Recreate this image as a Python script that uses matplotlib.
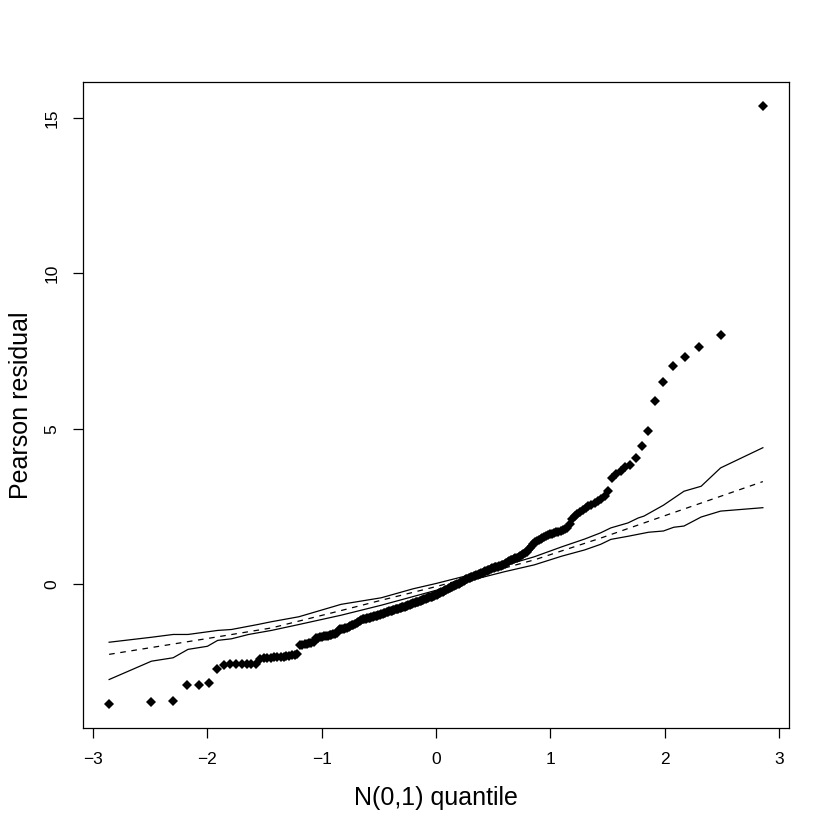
from statistics import NormalDist

import matplotlib
matplotlib.use("Agg")
import matplotlib.pyplot as plt
import numpy as np

# sorted Pearson residuals (n = 236)
residuals = [
    -3.86, -3.80, -3.77, -3.25, -3.25, -3.19, -2.74, -2.60, -2.58, -2.58, -2.58, -2.57, -2.57, -2.56,
    -2.40, -2.39, -2.38, -2.37, -2.36, -2.35, -2.34, -2.33, -2.32, -2.30, -2.29, -2.27, -2.25,
    -1.96, -1.95, -1.93, -1.92, -1.90, -1.88, -1.85,
    -1.74, -1.72, -1.70, -1.69, -1.68, -1.67, -1.66, -1.65, -1.63, -1.61, -1.59, -1.56,
    -1.48, -1.46, -1.45, -1.44, -1.42, -1.40, -1.38, -1.35, -1.32, -1.30, -1.27, -1.24, -1.21, -1.18,
    -1.15, -1.13, -1.12, -1.11, -1.10, -1.09, -1.08, -1.07, -1.05, -1.04, -1.03, -1.01, -1.00, -0.98,
    -0.97, -0.95, -0.94, -0.92, -0.91, -0.89, -0.88, -0.86,
    -0.85, -0.84, -0.83, -0.81, -0.80, -0.79, -0.77, -0.76, -0.74, -0.73, -0.72, -0.70, -0.69, -0.68,
    -0.66, -0.65, -0.63, -0.62, -0.60, -0.59, -0.57, -0.56, -0.54, -0.53, -0.51, -0.50, -0.48, -0.47,
    -0.45, -0.44, -0.42, -0.41, -0.40, -0.38, -0.37, -0.36,
    -0.34, -0.32, -0.30, -0.28, -0.26, -0.24, -0.22, -0.20, -0.18, -0.16, -0.14, -0.12, -0.10, -0.08,
    -0.06, -0.04, -0.02, 0.00, 0.02, 0.04, 0.06, 0.08, 0.10, 0.12, 0.15, 0.18,
    0.20, 0.21, 0.23, 0.24, 0.26, 0.27, 0.29, 0.30, 0.32, 0.33, 0.35, 0.37, 0.39, 0.41, 0.43, 0.45,
    0.47, 0.49, 0.51, 0.53, 0.54, 0.55, 0.56, 0.58, 0.59,
    0.60, 0.63, 0.66, 0.69, 0.72, 0.75, 0.77, 0.79, 0.81, 0.83, 0.85, 0.88, 0.91, 0.94, 0.97, 1.00,
    1.05, 1.10, 1.16, 1.22, 1.30, 1.35, 1.39, 1.42, 1.45, 1.48, 1.51, 1.54, 1.57, 1.60, 1.62,
    1.65, 1.67, 1.69, 1.71, 1.73, 1.76, 1.82, 1.95,
    2.10, 2.18, 2.26, 2.32, 2.40, 2.45, 2.50, 2.55, 2.62, 2.69, 2.73, 2.83, 2.99,
    3.42, 3.53, 3.64, 3.77, 3.85, 4.06, 4.44, 4.92, 5.89, 6.50, 7.02, 7.30, 7.63, 8.01, 15.39,
]

# simulated envelope (lower / median / upper)
upper_x = [-2.86, -2.49, -2.30, -2.17, -1.91, -1.79, -1.56, -1.44, -1.20, -0.83, -0.48, -0.20, 0.00,
           0.30, 0.60, 0.86, 1.10, 1.30, 1.44, 1.53, 1.68, 1.77, 1.82, 1.99, 2.17, 2.32, 2.49, 2.86]
upper_y = [-1.87, -1.71, -1.62, -1.62, -1.49, -1.46, -1.30, -1.21, -1.05, -0.65, -0.44, -0.15, 0.02,
           0.30, 0.60, 0.88, 1.20, 1.45, 1.65, 1.81, 1.97, 2.13, 2.19, 2.54, 2.99, 3.15, 3.74, 4.39]
lower_x = [-2.86, -2.49, -2.30, -2.17, -2.00, -1.91, -1.79, -1.64, -1.44, -1.20, -0.83, -0.48, -0.20,
           0.00, 0.30, 0.60, 0.86, 1.10, 1.30, 1.44, 1.53, 1.68, 1.86, 1.99, 2.08, 2.17, 2.32, 2.49, 2.86]
lower_y = [-3.07, -2.48, -2.37, -2.10, -2.00, -1.81, -1.76, -1.62, -1.49, -1.30, -1.00, -0.68, -0.40,
           -0.20, 0.12, 0.40, 0.62, 0.90, 1.10, 1.28, 1.44, 1.54, 1.67, 1.71, 1.83, 1.87, 2.16, 2.35, 2.46]
median_x = [-2.86, -2.00, -1.44, -0.83, -0.48, 0.00, 0.28, 0.86, 1.44, 2.00, 2.86]
median_y = [-2.26, -1.75, -1.41, -0.85, -0.52, -0.08, 0.20, 0.78, 1.48, 2.20, 3.30]

n = len(residuals)
theo = [NormalDist().inv_cdf((i + 0.5) / n) for i in range(n)]

plt.rcParams["font.family"] = ["Liberation Sans", "DejaVu Sans"]

fig = plt.figure(figsize=(8.3, 8.3), dpi=100)
ax = fig.add_axes([0.1, 0.1229, 0.8506, 0.7783])

ax.plot(theo, residuals, "D", color="black", markersize=4.6, markeredgewidth=0)
ax.plot(upper_x, upper_y, color="black", lw=0.9)
ax.plot(lower_x, lower_y, color="black", lw=0.9)
ax.plot(median_x, median_y, color="black", lw=0.9, dashes=(4.5, 4.5))


def r_lim(lo, hi):
    pad = 0.04 * (hi - lo)
    return lo - pad, hi + pad


ax.set_xlim(*r_lim(min(theo), max(theo)))
ax.set_ylim(*r_lim(min(residuals), max(residuals)))
ax.set_xticks(np.arange(-3, 4))
ax.set_xticklabels(["\u22123", "\u22122", "\u22121", "0", "1", "2", "3"])
ax.set_yticks([0, 5, 10, 15])
ax.tick_params(direction="out", length=7, width=0.9, labelsize=12.5, pad=10)
for lab in ax.get_yticklabels():
    lab.set_rotation(90)
    lab.set_va("center")
for sp in ax.spines.values():
    sp.set_linewidth(0.9)

ax.set_xlabel("N(0,1) quantile", fontsize=18, labelpad=14)
ax.set_ylabel("Pearson residual", fontsize=18, labelpad=8)

fig.savefig("out.png", dpi=100)
